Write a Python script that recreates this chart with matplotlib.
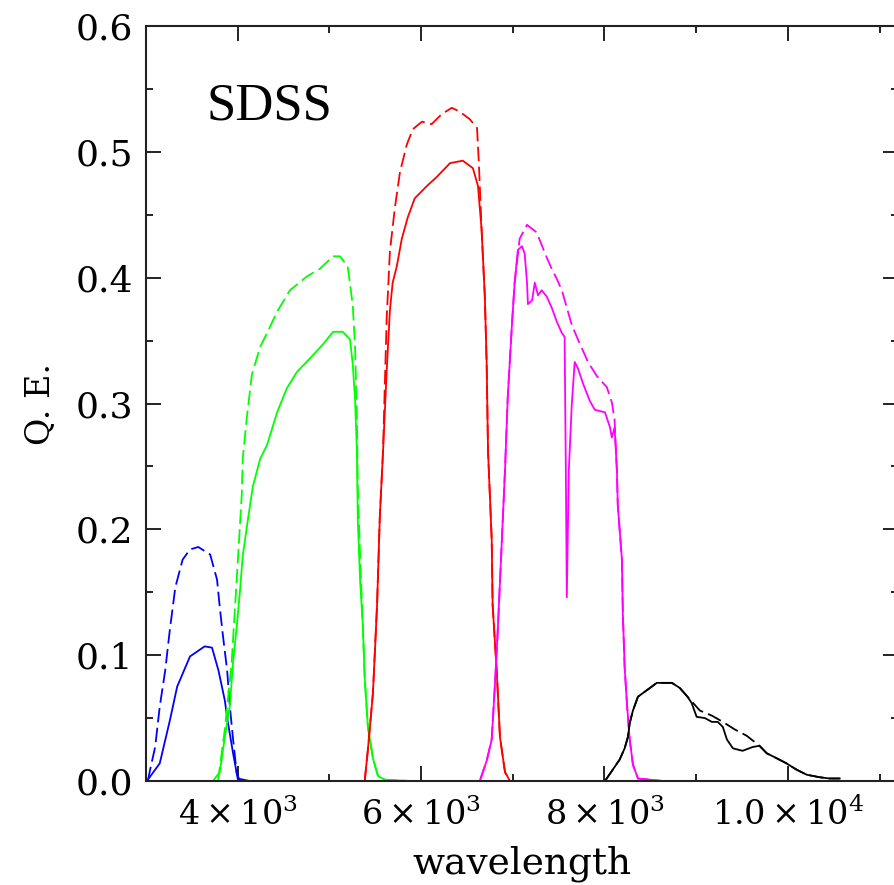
import matplotlib
matplotlib.use("Agg")
import matplotlib.pyplot as plt
from matplotlib.ticker import MultipleLocator, FixedLocator, FixedFormatter

# u band (blue)
uWave = [3010, 3150, 3260, 3340, 3480, 3640, 3720, 3790, 3860, 3890, 3950, 4000, 4130]
uQE = [0.0, 0.014, 0.048, 0.075, 0.099, 0.107, 0.106, 0.088, 0.064, 0.048, 0.022, 0.002, 0.0]
uWaveD = [3020, 3045, 3100, 3150, 3210, 3260, 3320, 3400, 3480, 3570, 3700, 3775, 3805,
          3840, 3885, 3915, 3950, 3990, 4025]
uQED = [0.0, 0.009, 0.027, 0.059, 0.088, 0.120, 0.154, 0.176, 0.184, 0.186, 0.180, 0.160,
        0.138, 0.115, 0.088, 0.059, 0.033, 0.006, 0.0]

# g band (green)
gWave = [3620, 3730, 3805, 3860, 3915, 3950, 3990, 4025, 4055, 4110, 4165, 4245, 4320,
         4430, 4535, 4645, 4790, 4930, 5040, 5145, 5225, 5255, 5280, 5300, 5310, 5335,
         5365, 5385, 5420, 5475, 5530, 5605, 5880]
gQE = [0.0, 0.0, 0.007, 0.035, 0.060, 0.095, 0.123, 0.151, 0.179, 0.207, 0.234, 0.256,
       0.267, 0.293, 0.312, 0.325, 0.336, 0.347, 0.357, 0.357, 0.351, 0.331, 0.303, 0.262,
       0.207, 0.159, 0.123, 0.082, 0.043, 0.018, 0.004, 0.001, 0.0]
gWaveD = [3785, 3860, 3935, 3970, 4005, 4045, 4055, 4100, 4155, 4245, 4320, 4430, 4570,
          4755, 4895, 5040, 5115, 5200, 5255, 5280, 5300, 5310, 5335, 5365, 5385, 5420,
          5475, 5530, 5605, 5880]
gQED = [0.0, 0.041, 0.095, 0.137, 0.179, 0.228, 0.256, 0.289, 0.323, 0.345, 0.356, 0.373,
        0.390, 0.401, 0.407, 0.417, 0.417, 0.409, 0.378, 0.345, 0.289, 0.234, 0.179, 0.123,
        0.082, 0.043, 0.018, 0.004, 0.001, 0.0]

# r band (red)
rWave = [5385, 5420, 5475, 5520, 5550, 5585, 5625, 5660, 5690, 5735, 5790, 5855, 5930,
         6065, 6170, 6315, 6455, 6565, 6620, 6660, 6695, 6715, 6730, 6770, 6780, 6825,
         6860, 6915, 6970, 7240]
rQE = [0.0, 0.025, 0.070, 0.140, 0.210, 0.262, 0.326, 0.374, 0.396, 0.409, 0.431, 0.448,
       0.463, 0.473, 0.480, 0.491, 0.493, 0.487, 0.473, 0.438, 0.385, 0.332, 0.262, 0.192,
       0.140, 0.087, 0.035, 0.007, 0.0, 0.0]
rWaveD = [5385, 5420, 5475, 5520, 5550, 5585, 5605, 5625, 5660, 5715, 5770, 5845, 5910,
          6010, 6115, 6225, 6335, 6420, 6530, 6610, 6630, 6650, 6660, 6695, 6715, 6730,
          6770, 6780, 6825, 6860, 6915, 6970, 7240]
rQED = [0.0, 0.025, 0.070, 0.140, 0.210, 0.262, 0.316, 0.368, 0.421, 0.456, 0.484, 0.506,
        0.518, 0.524, 0.522, 0.530, 0.535, 0.532, 0.526, 0.519, 0.491, 0.456, 0.438, 0.385,
        0.332, 0.262, 0.192, 0.140, 0.087, 0.035, 0.007, 0.0, 0.0]

# i band (magenta)
iWave = [6445, 6640, 6715, 6770, 6805, 6835, 6880, 6915, 6945, 6990, 7020, 7055, 7100,
         7130, 7155, 7165, 7210, 7240, 7275, 7315, 7370, 7425, 7480, 7535, 7565, 7578,
         7589, 7611, 7643, 7675, 7710, 7765, 7840, 7895, 8005, 8060, 8080, 8110, 8135,
         8145, 8190, 8200, 8220, 8245, 8275, 8310, 8365, 8635]
iQE = [0.0, 0.0, 0.016, 0.033, 0.076, 0.118, 0.190, 0.247, 0.305, 0.362, 0.396, 0.422,
       0.425, 0.419, 0.396, 0.379, 0.382, 0.396, 0.386, 0.390, 0.385, 0.376, 0.365, 0.356,
       0.353, 0.250, 0.146, 0.247, 0.299, 0.333, 0.328, 0.316, 0.302, 0.295, 0.293, 0.281,
       0.273, 0.281, 0.247, 0.219, 0.176, 0.133, 0.090, 0.061, 0.033, 0.013, 0.002, 0.0]
iWaveD = [6445, 6640, 6715, 6770, 6805, 6835, 6880, 6915, 6945, 6990, 7020, 7075, 7155,
          7260, 7315, 7370, 7425, 7480, 7535, 7590, 7645, 7710, 7765, 7820, 7915, 8025,
          8080, 8110, 8135, 8145, 8190, 8200, 8220, 8245, 8275, 8310, 8365, 8635]
iQED = [0.0, 0.0, 0.016, 0.033, 0.076, 0.118, 0.190, 0.247, 0.305, 0.362, 0.396, 0.431,
        0.442, 0.436, 0.426, 0.416, 0.407, 0.399, 0.390, 0.376, 0.362, 0.351, 0.342, 0.333,
        0.322, 0.313, 0.301, 0.287, 0.247, 0.219, 0.176, 0.133, 0.090, 0.061, 0.033, 0.013,
        0.002, 0.0]

# z band (black)
zWave = [8005, 8090, 8165, 8220, 8255, 8275, 8310, 8365, 8440, 8515, 8570, 8635, 8735,
         8820, 8905, 8950, 9005, 9095, 9170, 9235, 9290, 9335, 9400, 9505, 9615, 9690,
         9770, 9880, 9985, 10095, 10205, 10345, 10455, 10565]
zQE = [0.0, 0.009, 0.017, 0.026, 0.035, 0.046, 0.056, 0.067, 0.071, 0.075, 0.078, 0.078,
       0.078, 0.074, 0.067, 0.062, 0.051, 0.050, 0.047, 0.047, 0.043, 0.033, 0.026, 0.024,
       0.027, 0.028, 0.022, 0.018, 0.014, 0.009, 0.005, 0.003, 0.002, 0.002]
zWaveD = [8005, 8090, 8165, 8220, 8255, 8275, 8310, 8365, 8440, 8515, 8570, 8635, 8735,
          8820, 8905, 9040, 9170, 9290, 9420, 9550, 9690, 9770, 9880, 9985, 10095, 10205,
          10345, 10455, 10565]
zQED = [0.0, 0.009, 0.017, 0.026, 0.035, 0.046, 0.056, 0.067, 0.071, 0.075, 0.078, 0.078,
        0.078, 0.074, 0.067, 0.056, 0.052, 0.047, 0.041, 0.036, 0.028, 0.022, 0.018, 0.014,
        0.009, 0.005, 0.003, 0.002, 0.002]

xTicks = [4000, 6000, 8000, 10000]
xTickLabels = [r"$4\times10^3$", r"$6\times10^3$", r"$8\times10^3$", r"$1.0\times10^4$"]

DASH = (0, (8, 3))
LW = 1.3


def makePlot():
    plt.rcParams["font.family"] = "DejaVu Serif"
    plt.rcParams["mathtext.fontset"] = "dejavuserif"

    fig = plt.figure(figsize=(8.95, 8.85), dpi=100)
    ax = fig.add_axes([0.1631, 0.1175, 0.8402, 0.8531])

    bands = [(uWave, uQE, uWaveD, uQED, "#0000ff"),
             (gWave, gQE, gWaveD, gQED, "#00ff00"),
             (rWave, rQE, rWaveD, rQED, "#ff0000"),
             (iWave, iQE, iWaveD, iQED, "#ff00ff"),
             (zWave, zQE, zWaveD, zQED, "black")]
    for w, q, wd, qd, c in bands:
        ax.plot(wd, qd, color=c, lw=LW, linestyle=DASH)
        ax.plot(w, q, color=c, lw=LW)

    ax.set_xlim(3000, 11200)
    ax.set_ylim(0, 0.6)

    ax.xaxis.set_major_locator(FixedLocator(xTicks))
    ax.xaxis.set_major_formatter(FixedFormatter(xTickLabels))
    ax.xaxis.set_minor_locator(MultipleLocator(1000))
    ax.yaxis.set_major_locator(MultipleLocator(0.1))
    ax.yaxis.set_minor_locator(MultipleLocator(0.05))
    ax.yaxis.set_major_formatter(plt.FormatStrFormatter("%.1f"))

    ax.tick_params(which="both", direction="in", top=True, right=True,
                   width=1.4, color="#222222", labelsize=24)
    ax.tick_params(which="major", length=11)
    ax.tick_params(which="minor", length=5)
    ax.tick_params(axis="y", pad=9, labelsize=26)
    ax.tick_params(axis="x", pad=12)
    for s in ax.spines.values():
        s.set_linewidth(1.5)
        s.set_color("#222222")

    ax.set_xlabel("wavelength", fontsize=27, labelpad=10)
    ax.set_ylabel("Q. E.", fontsize=24, labelpad=14)

    ax.text(0.081, 0.893, "SDSS", transform=ax.transAxes, ha="left", va="center",
            fontsize=38, family="Liberation Serif")

    fig.savefig("out.png", dpi=100)


def main():
    makePlot()


main()
